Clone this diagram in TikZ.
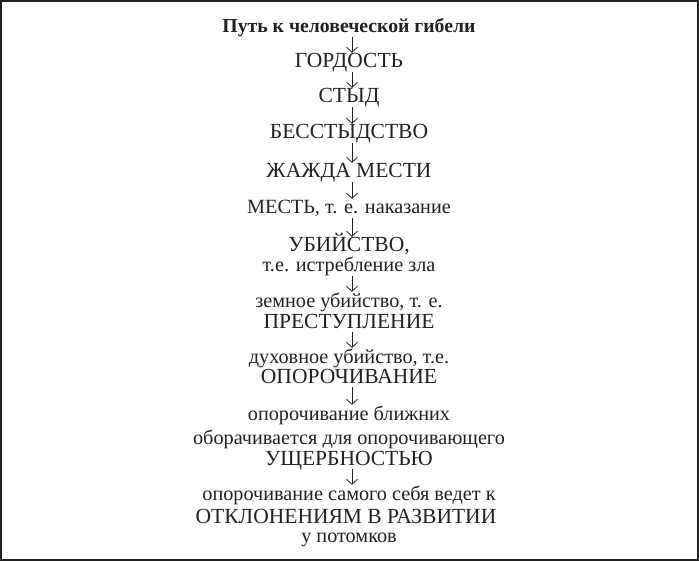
\documentclass[tikz,border=0pt]{standalone}
\usepackage{fontspec}
\setmainfont{LiberationSerif}[Extension=.ttf, UprightFont=*-Regular, BoldFont=*-Bold]
\usetikzlibrary{arrows.meta}
\begin{document}
\begin{tikzpicture}[x=1bp, y=-1bp, every node/.style={anchor=base, inner sep=0pt, text=black!87, font=\fontsize{21.6}{21.6}\selectfont, text height=14bp, text depth=3bp}, lowline/.style={font=\fontsize{20.3}{20.3}\selectfont}, every edge/.style={draw=black!87, line width=0.8bp, -{Straight Barb[length=5bp, width=11bp]}, shorten <=1bp, shorten >=1bp}]
				\useasboundingbox (0,0) rectangle (699,561);
				\draw[black!87, line width=1.6bp] (0.8,0.8) rectangle (698.2,560.2);
				
				\node[font=\fontsize{19.8}{19.8}\selectfont\bfseries] (text1) at (349,33){Путь к человеческой гибели};
				\node (text2) at (349,68){ГОРДОСТЬ};
				\node (text3) at (349,103){СТЫД};
				\node (text4) at (349,139){БЕССТЫДСТВО};
				\node (text5) at (349,178){ЖАЖДА МЕСТИ};
				\node[lowline] (text6) at (349,214){МЕСТЬ, т. е. наказание};
				\node (text7) at (349,252){УБИЙСТВО,};
				\node[lowline] (text71) at (349,272){т.е. истребление зла};
				\node[lowline] (text8) at (349,307){земное убийство, т. е.};
				\node (text81) at (349,328){ПРЕСТУПЛЕНИЕ};
				\node[lowline] (text9) at (349,363){духовное убийство, т.е.};
				\node (text91) at (349,383){ОПОРОЧИВАНИЕ};
				\node[lowline] (text10) at (349,420){опорочивание ближних};
				\node[lowline] (text101) at (349,444){оборачивается для опорочивающего};
				\node (text102) at (349,465){УЩЕРБНОСТЬЮ};
				\node[lowline] (text11) at (349,500){опорочивание самого себя ведет к};
				\node (text111) at (346,523){ОТКЛОНЕНИЯМ В РАЗВИТИИ};
				\node[lowline] (text112) at (349,542){у потомков};
				
				\path ([xshift=3bp]text1.south) edge ([xshift=3bp]text2.north);
				\path ([xshift=3bp]text2.south) edge ([xshift=3bp]text3.north);
				\path ([xshift=3bp]text3.south) edge ([xshift=3bp]text4.north);
				\path ([xshift=3bp]text4.south) edge ([xshift=3bp]text5.north);
				\path ([xshift=3bp]text5.south) edge ([xshift=3bp]text6.north);
				\path ([xshift=3bp]text6.south) edge ([xshift=3bp]text7.north);
				\path ([xshift=3bp]text71.south) edge ([xshift=3bp]text8.north);
				\path ([xshift=3bp]text81.south) edge ([xshift=3bp]text9.north);
				\path ([xshift=3bp]text91.south) edge ([xshift=3bp]text10.north);
				\path ([xshift=3bp]text102.south) edge ([xshift=3bp]text11.north);
\end{tikzpicture}
\end{document}
